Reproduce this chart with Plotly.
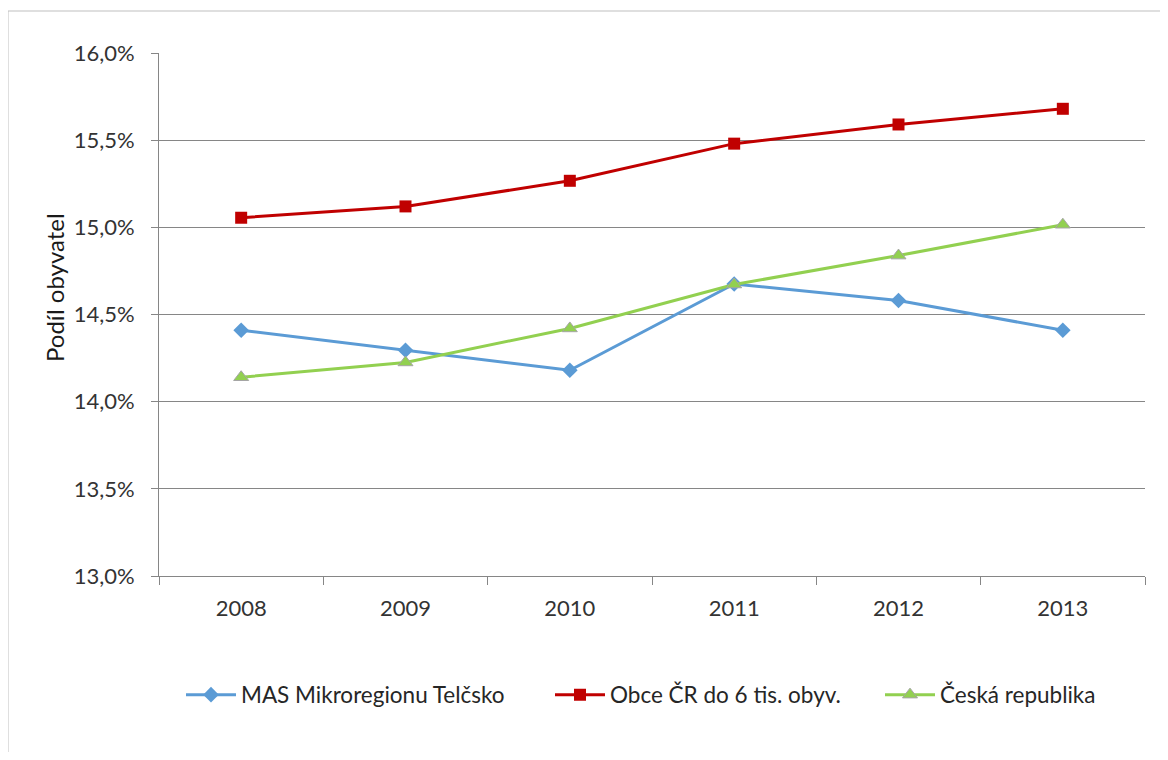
import plotly.graph_objects as go

years = ["2008", "2009", "2010", "2011", "2012", "2013"]
mas_telcsko = [14.41, 14.295, 14.18, 14.675, 14.58, 14.41]
obce_do_6tis = [15.055, 15.12, 15.267, 15.48, 15.59, 15.68]
ceska_republika = [14.14, 14.225, 14.42, 14.672, 14.838, 15.015]

names = ["MAS Mikroregionu Telčsko", "Obce ČR do 6 tis. obyv.", "Česká republika"]
y_ticks = [13.0, 13.5, 14.0, 14.5, 15.0, 15.5, 16.0]
y_tick_text = ["13,0%", "13,5%", "14,0%", "14,5%", "15,0%", "15,5%", "16,0%"]

FONT = "Lato"
TXT = "#333333"
OFF = 8  # page body margin
W, H = 1168 - 2 * OFF, 760 - 2 * OFF
# plot area in page pixels: x 159..1145, y 53..576
L, T = 159 - OFF, 53 - OFF
R = W - (1145 - OFF)
B = H - (576 - OFF)
pw, ph = W - L - R, H - T - B


def px_x(p):
    return (p - OFF - L) / pw


def px_y(p):
    return (H - B - (p - OFF)) / ph


fig = go.Figure()
fig.add_trace(go.Scatter(
    x=years, y=mas_telcsko, name=names[0], mode="lines+markers",
    line=dict(color="#5B9BD5", width=3),
    marker=dict(symbol="diamond", size=12, color="#5B9BD5"),
    legend="legend",
))
fig.add_trace(go.Scatter(
    x=years, y=obce_do_6tis, name=names[1], mode="lines+markers",
    line=dict(color="#C00000", width=3),
    marker=dict(symbol="square", size=12, color="#C00000"),
    legend="legend2",
))
fig.add_trace(go.Scatter(
    x=years, y=ceska_republika, name=names[2], mode="lines+markers",
    line=dict(color="#92D050", width=3),
    marker=dict(symbol="triangle-up", size=13, color="#92D050",
                line=dict(color="#A5A5A5", width=1)),
    legend="legend3",
))

leg_common = dict(orientation="h", yanchor="middle", y=px_y(695), xanchor="left",
                  font=dict(family=FONT, size=22.5, color="#262626"),
                  bgcolor="rgba(0,0,0,0)", itemwidth=50)

fig.update_layout(
    width=W, height=H, autosize=False,
    margin=dict(l=L, r=R, t=T, b=B, pad=0),
    paper_bgcolor="white", plot_bgcolor="white",
    font=dict(family=FONT, size=22, color=TXT),
    showlegend=True,
    legend=dict(x=px_x(181), **leg_common),
    legend2=dict(x=px_x(550), **leg_common),
    legend3=dict(x=px_x(880), **leg_common),
    xaxis=dict(type="category", range=[-0.5, 5.5], tickson="boundaries",
               showline=True, linecolor="#868686", linewidth=1,
               ticks="outside", ticklen=8, tickcolor="#868686",
               showgrid=False, zeroline=False, ticklabelstandoff=13,
               tickfont=dict(family=FONT, size=22, color=TXT)),
    yaxis=dict(range=[13, 16], tickmode="array", tickvals=y_ticks, ticktext=y_tick_text,
               showline=True, linecolor="#868686", linewidth=1,
               ticks="outside", ticklen=7, tickcolor="#868686",
               showgrid=True, gridcolor="#868686", gridwidth=1,
               zeroline=False, ticklabelstandoff=12,
               tickfont=dict(family=FONT, size=22, color=TXT)),
)

fig.add_annotation(
    text="Podíl obyvatel", textangle=-90, showarrow=False,
    xref="paper", yref="paper", x=px_x(54), y=px_y(288),
    xanchor="center", yanchor="middle",
    font=dict(family=FONT, size=24, color="#1a1a1a"),
)

# chart-area frame (only its left and top edges fall inside the picture)
fig.add_shape(type="line", xref="paper", yref="paper",
              x0=px_x(8), x1=px_x(1200), y0=px_y(11), y1=px_y(11),
              line=dict(color="#BFBFBF", width=1), layer="below")
fig.add_shape(type="line", xref="paper", yref="paper",
              x0=px_x(8), x1=px_x(8), y0=px_y(11), y1=px_y(800),
              line=dict(color="#BFBFBF", width=1), layer="below")

fig.write_html("out.html")
